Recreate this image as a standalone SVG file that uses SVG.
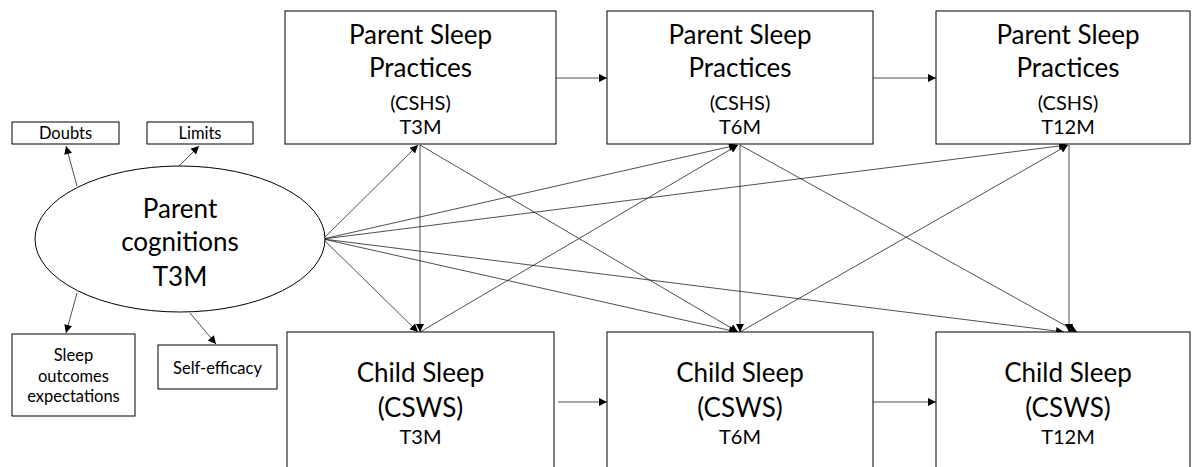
<svg xmlns="http://www.w3.org/2000/svg" width="1193" height="467" viewBox="0 0 1193 467">
  <style>
    .box { fill: #fff; stroke: #000; stroke-width: 1; }
    .big { font-family: Lato, "Liberation Sans", sans-serif; font-size: 26px; fill: #000; text-anchor: middle; }
    .mid { font-family: Lato, "Liberation Sans", sans-serif; font-size: 20px; fill: #000; text-anchor: middle; }
    .small { font-family: Lato, "Liberation Sans", sans-serif; font-size: 16.5px; fill: #000; text-anchor: middle; }
    .edge { fill: none; stroke: #222; stroke-width: 0.8; marker-end: url(#arrow); }
  </style>
  <defs>
    <marker id="arrow" viewBox="0 0 10 10" refX="10" refY="5" markerWidth="10" markerHeight="8" markerUnits="userSpaceOnUse" orient="auto">
      <path d="M0,0 L10,5 L0,10 z" fill="#000"/>
    </marker>
  </defs>

  <rect width="1193" height="467" fill="#fff"/>

  <!-- connectors -->
  <g id="connectors">
    <!-- ellipse to indicators -->
    <line class="edge" x1="77" y1="186" x2="66" y2="146"/>
    <line class="edge" x1="179" y1="166" x2="199" y2="146"/>
    <line class="edge" x1="77" y1="293" x2="66" y2="333"/>
    <line class="edge" x1="190" y1="313" x2="216" y2="344"/>
    <!-- cognitions to practices / sleep -->
    <line class="edge" x1="323" y1="239" x2="418" y2="145"/>
    <line class="edge" x1="323" y1="239" x2="737" y2="145"/>
    <line class="edge" x1="323" y1="239" x2="1067" y2="145"/>
    <line class="edge" x1="323" y1="239" x2="418" y2="332"/>
    <line class="edge" x1="323" y1="239" x2="737" y2="332"/>
    <line class="edge" x1="323" y1="239" x2="1064" y2="332"/>
    <!-- verticals -->
    <line class="edge" x1="420" y1="145" x2="420" y2="332"/>
    <line class="edge" x1="740" y1="145" x2="740" y2="332"/>
    <line class="edge" x1="1069" y1="145" x2="1069" y2="332"/>
    <!-- cross-lagged -->
    <line class="edge" x1="420" y1="145" x2="738" y2="332"/>
    <line class="edge" x1="420" y1="332" x2="738" y2="145"/>
    <line class="edge" x1="740" y1="145" x2="1077" y2="332"/>
    <line class="edge" x1="740" y1="332" x2="1068" y2="145"/>
    <!-- autoregressive -->
    <line class="edge" x1="556" y1="78" x2="607" y2="78"/>
    <line class="edge" x1="873" y1="78" x2="936" y2="78"/>
    <line class="edge" x1="558" y1="402" x2="607" y2="402"/>
    <line class="edge" x1="873" y1="402" x2="936" y2="402"/>
  </g>

  <!-- latent factor -->
  <g id="cognitions">
    <ellipse cx="180" cy="239" rx="145" ry="73" fill="#fff" stroke="#000" stroke-width="1"/>
    <text class="big" x="180" y="218">Parent</text>
    <text class="big" x="180" y="251">cognitions</text>
    <text class="big" x="180" y="286">T3M</text>
  </g>

  <!-- indicators -->
  <g id="doubts">
    <rect class="box" x="12" y="122" width="107" height="22"/>
    <text class="small" x="65.5" y="139">Doubts</text>
  </g>
  <g id="limits">
    <rect class="box" x="147" y="122" width="106" height="22"/>
    <text class="small" x="200" y="139">Limits</text>
  </g>
  <g id="expectations">
    <rect class="box" x="12" y="334" width="123" height="82"/>
    <text class="small" x="73.5" y="361">Sleep</text>
    <text class="small" x="73.5" y="382">outcomes</text>
    <text class="small" x="73.5" y="402">expectations</text>
  </g>
  <g id="selfefficacy">
    <rect class="box" x="158" y="345" width="119" height="44"/>
    <text class="small" x="217.5" y="374">Self-efficacy</text>
  </g>

  <!-- parent sleep practices -->
  <g id="practices-t3m">
    <rect class="box" x="285" y="11" width="271" height="133"/>
    <text class="big" x="420.5" y="44">Parent Sleep</text>
    <text class="big" x="420.5" y="77">Practices</text>
    <text class="mid" x="420.5" y="110">(CSHS)</text>
    <text class="mid" x="420.5" y="134">T3M</text>
  </g>
  <g id="practices-t6m">
    <rect class="box" x="607" y="11" width="266" height="133"/>
    <text class="big" x="740" y="44">Parent Sleep</text>
    <text class="big" x="740" y="77">Practices</text>
    <text class="mid" x="740" y="110">(CSHS)</text>
    <text class="mid" x="740" y="134">T6M</text>
  </g>
  <g id="practices-t12m">
    <rect class="box" x="936" y="11" width="254" height="133"/>
    <text class="big" x="1068" y="44">Parent Sleep</text>
    <text class="big" x="1068" y="77">Practices</text>
    <text class="mid" x="1068" y="110">(CSHS)</text>
    <text class="mid" x="1068" y="134">T12M</text>
  </g>

  <!-- child sleep -->
  <g id="child-t3m">
    <rect class="box" x="287" y="332" width="267" height="145"/>
    <text class="big" x="420.5" y="382">Child Sleep</text>
    <text class="big" x="420.5" y="417">(CSWS)</text>
    <text class="mid" x="420.5" y="444">T3M</text>
  </g>
  <g id="child-t6m">
    <rect class="box" x="607" y="332" width="266" height="145"/>
    <text class="big" x="740" y="382">Child Sleep</text>
    <text class="big" x="740" y="417">(CSWS)</text>
    <text class="mid" x="740" y="444">T6M</text>
  </g>
  <g id="child-t12m">
    <rect class="box" x="936" y="332" width="254" height="145"/>
    <text class="big" x="1068" y="382">Child Sleep</text>
    <text class="big" x="1068" y="417">(CSWS)</text>
    <text class="mid" x="1068" y="444">T12M</text>
  </g>
</svg>
